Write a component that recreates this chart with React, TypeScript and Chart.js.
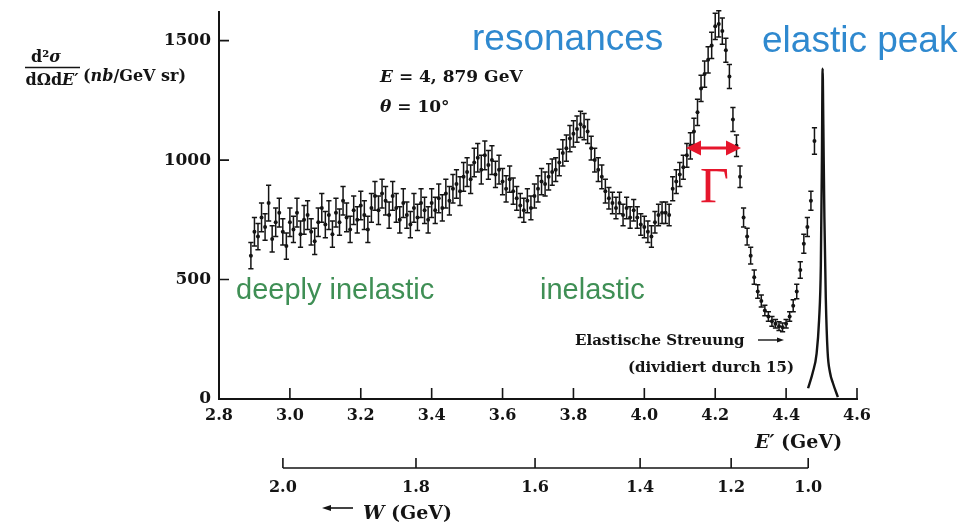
import React, { useEffect, useRef } from "react";
import { Chart, registerables } from "chart.js";

Chart.register(...registerables);

// Measured points: scattered electron energy E' (GeV)
const E_PRIME = [
  2.89, 2.90, 2.91, 2.92, 2.93, 2.94, 2.95, 2.96, 2.97, 2.98, 2.99,
  3.00, 3.01, 3.02, 3.03, 3.04, 3.05, 3.06, 3.07, 3.08, 3.09,
  3.10, 3.11, 3.12, 3.13, 3.14, 3.15, 3.16, 3.17, 3.18, 3.19,
  3.20, 3.21, 3.22, 3.23, 3.24, 3.25, 3.26, 3.27, 3.28, 3.29,
  3.30, 3.31, 3.32, 3.33, 3.34, 3.35, 3.36, 3.37, 3.38, 3.39,
  3.40, 3.41, 3.42, 3.43, 3.44, 3.45, 3.46, 3.47, 3.48, 3.49,
  3.50, 3.51, 3.52, 3.53, 3.54, 3.55, 3.56, 3.57, 3.58, 3.59,
  3.60, 3.61, 3.62, 3.63, 3.64, 3.65, 3.66, 3.67, 3.68, 3.69,
  3.70, 3.71, 3.72, 3.73, 3.74, 3.75, 3.76, 3.77, 3.78, 3.79,
  3.80, 3.81, 3.82, 3.83, 3.84, 3.85, 3.86, 3.87, 3.88, 3.89,
  3.90, 3.91, 3.92, 3.93, 3.94, 3.95, 3.96, 3.97, 3.98, 3.99,
  4.00, 4.01, 4.02, 4.03, 4.04, 4.05, 4.06, 4.07, 4.08, 4.09,
  4.10, 4.11, 4.12, 4.13, 4.14, 4.15, 4.16, 4.17, 4.18, 4.19,
  4.20, 4.21, 4.22, 4.23, 4.24, 4.25, 4.26, 4.27, 4.28, 4.29,
  4.30, 4.31, 4.32, 4.33, 4.34, 4.35, 4.36, 4.37, 4.38, 4.39,
  4.40, 4.41, 4.42, 4.43, 4.44, 4.45, 4.46, 4.47, 4.48,
];

// d²σ/dΩdE' (nb/GeV sr)
const CROSS_SECTION = [
  600, 700, 680, 760, 720, 820, 670, 740, 780, 700, 640,
  740, 710, 780, 690, 750, 770, 700, 660, 740, 800,
  730, 770, 690, 780, 740, 830, 760, 710, 790, 750,
  810, 770, 710, 800, 850, 790, 860, 830, 770, 850,
  800, 750, 820, 770, 730, 800, 760, 820, 790, 750,
  820, 790, 840, 800, 860, 830, 880, 900, 870, 930,
  950, 920, 990, 1010, 960, 1020, 980, 1000, 940, 960,
  910, 880, 920, 870, 840, 810, 790, 830, 800, 850,
  880, 910, 900, 930, 950, 960, 990, 1030, 1050, 1090,
  1110, 1130, 1150, 1140, 1120, 1050, 1000, 960, 930, 870,
  840, 820, 800, 820, 770, 800, 760, 790, 760, 730,
  720, 700, 680, 740, 770, 780, 780, 770, 880, 910,
  940, 970, 1020, 1060, 1120, 1200, 1300, 1360, 1420, 1480,
  1560, 1570, 1540, 1460, 1350, 1170, 1060, 930, 760, 680,
  600, 510, 450, 410, 370, 345, 325, 315, 305, 300,
  315, 345, 390, 450, 540, 650, 720, 830, 1080,
];

// symmetric error bars
const ERRORS = [
  55, 60, 55, 60, 55, 75, 55, 60, 60, 55, 55,
  60, 55, 60, 55, 60, 60, 55, 55, 60, 60,
  55, 60, 55, 60, 55, 60, 60, 55, 60, 55,
  60, 60, 55, 60, 60, 60, 60, 60, 55, 60,
  60, 55, 60, 55, 55, 60, 55, 60, 55, 55,
  60, 55, 60, 55, 60, 60, 60, 60, 60, 60,
  60, 60, 60, 60, 60, 60, 60, 60, 55, 60,
  55, 55, 55, 55, 50, 50, 50, 50, 50, 50,
  55, 55, 50, 55, 55, 50, 55, 55, 55, 55,
  55, 55, 55, 55, 50, 50, 50, 50, 50, 50,
  45, 45, 45, 45, 45, 45, 45, 45, 45, 45,
  45, 45, 45, 45, 45, 45, 45, 45, 50, 50,
  50, 50, 50, 55, 55, 55, 55, 55, 55, 55,
  55, 55, 55, 50, 50, 50, 45, 45, 40, 35,
  35, 30, 28, 25, 22, 20, 20, 18, 18, 18,
  18, 20, 25, 30, 35, 40, 40, 40, 55,
];

// Elastic peak (divided by 15)
const ELASTIC_E = [4.462, 4.475, 4.486, 4.493, 4.498, 4.501, 4.503, 4.505, 4.508, 4.512, 4.517, 4.524, 4.532, 4.546];
const ELASTIC_VALUES = [45, 110, 190, 330, 560, 1000, 1383, 1150, 760, 420, 200, 110, 67, 8];

const X_TICKS = [2.8, 3.0, 3.2, 3.4, 3.6, 3.8, 4.0, 4.2, 4.4, 4.6];
const Y_TICKS = [0, 500, 1000, 1500];
const W_TICKS = [2.0, 1.8, 1.6, 1.4, 1.2, 1.0];

const BEAM_ENERGY = 4.879;
const THETA_DEG = 10;
const PROTON_MASS = 0.938;

function ePrimeOfW(w: number): number {
  const s2 = Math.pow(Math.sin((THETA_DEG * Math.PI) / 360), 2);
  const M = PROTON_MASS;
  const E = BEAM_ENERGY;
  return (M * M + 2 * M * E - w * w) / (2 * M + 4 * E * s2);
}

const SERIF = "'DejaVu Serif', serif";
const SANS = "'Liberation Sans', Arial, sans-serif";
const INK = "#141414";
const BLUE = "#2f89cf";
const GREEN = "#3f8f55";
const RED = "#e6162c";

type Part = [string, string];
function rich(ctx: CanvasRenderingContext2D, x: number, y: number, parts: Part[], align: "left" | "center" | "right" = "left") {
  let total = 0;
  for (const [f, t] of parts) {
    ctx.font = f;
    total += ctx.measureText(t).width;
  }
  let cx = align === "left" ? x : align === "right" ? x - total : x - total / 2;
  ctx.textAlign = "left";
  ctx.textBaseline = "alphabetic";
  for (const [f, t] of parts) {
    ctx.font = f;
    ctx.fillText(t, cx, y);
    cx += ctx.measureText(t).width;
  }
}

function arrowHead(ctx: CanvasRenderingContext2D, x: number, y: number, dir: number, len: number, half: number) {
  ctx.beginPath();
  ctx.moveTo(x, y);
  ctx.lineTo(x - dir * len, y - half);
  ctx.lineTo(x - dir * len, y + half);
  ctx.closePath();
  ctx.fill();
}

const decorations = {
  id: "decorations",
  beforeDatasetsDraw(chart: any) {
    const ctx: CanvasRenderingContext2D = chart.ctx;
    const xs = chart.scales.x;
    const ys = chart.scales.y;
    ctx.save();
    ctx.strokeStyle = INK;
    ctx.lineWidth = 1.5;
    for (let i = 0; i < E_PRIME.length; i++) {
      const px = xs.getPixelForValue(E_PRIME[i]);
      const top = ys.getPixelForValue(CROSS_SECTION[i] + ERRORS[i]);
      const bot = ys.getPixelForValue(CROSS_SECTION[i] - ERRORS[i]);
      ctx.beginPath();
      ctx.moveTo(px, top);
      ctx.lineTo(px, bot);
      ctx.moveTo(px - 2.6, top);
      ctx.lineTo(px + 2.6, top);
      ctx.moveTo(px - 2.6, bot);
      ctx.lineTo(px + 2.6, bot);
      ctx.stroke();
    }
    ctx.restore();
  },
  afterDraw(chart: any) {
    const ctx: CanvasRenderingContext2D = chart.ctx;
    const xs = chart.scales.x;
    const ys = chart.scales.y;
    const ws = chart.scales.w;
    const area = chart.chartArea;
    ctx.save();
    ctx.strokeStyle = INK;
    ctx.fillStyle = INK;

    // inward tick marks
    ctx.lineWidth = 1.6;
    ctx.beginPath();
    for (const v of X_TICKS.slice(1)) {
      const px = xs.getPixelForValue(v);
      ctx.moveTo(px, area.bottom);
      ctx.lineTo(px, area.bottom - 11);
    }
    for (const v of Y_TICKS.slice(1)) {
      const py = ys.getPixelForValue(v);
      ctx.moveTo(area.left, py);
      ctx.lineTo(area.left + 10, py);
    }
    ctx.stroke();

    // W axis
    const wy = ws.top;
    const w0 = ws.getPixelForValue(ePrimeOfW(W_TICKS[0]));
    const w1 = ws.getPixelForValue(ePrimeOfW(W_TICKS[W_TICKS.length - 1]));
    ctx.lineWidth = 1.6;
    ctx.beginPath();
    ctx.moveTo(w0, wy);
    ctx.lineTo(w1, wy);
    for (const w of W_TICKS) {
      const px = ws.getPixelForValue(ePrimeOfW(w));
      ctx.moveTo(px, wy);
      ctx.lineTo(px, wy - 10);
    }
    ctx.stroke();

    // y-axis title
    const b15 = `bold 16px ${SERIF}`;
    const bi15 = `italic bold 16px ${SERIF}`;
    rich(ctx, 46, 62, [[b15, "d²"], [bi15, "σ"]], "center");
    ctx.lineWidth = 1.4;
    ctx.beginPath();
    ctx.moveTo(25, 67.5);
    ctx.lineTo(80, 67.5);
    ctx.stroke();
    rich(ctx, 52, 85, [[b15, "dΩd"], [bi15, "E′"]], "center");
    rich(ctx, 83, 81, [[b15, "("], [bi15, "nb"], [b15, "/GeV sr)"]]);

    // beam parameters
    const b17 = `bold 17px ${SERIF}`;
    const bi17 = `italic bold 17px ${SERIF}`;
    rich(ctx, 380, 82, [[bi17, "E"], [b17, " = 4, 879 GeV"]]);
    rich(ctx, 380, 112, [[bi17, "θ"], [b17, " = 10°"]]);

    // elastic note
    const b15b = `bold 15px ${SERIF}`;
    rich(ctx, 575, 345, [[b15b, "Elastische Streuung"]]);
    ctx.lineWidth = 1.4;
    ctx.beginPath();
    ctx.moveTo(758, 340);
    ctx.lineTo(778, 340);
    ctx.stroke();
    arrowHead(ctx, 784, 340, 1, 7, 2.5);
    rich(ctx, 628, 372, [[b15b, "(dividiert durch 15)"]]);

    // axis titles
    const b19 = `bold 19px ${SERIF}`;
    const bi19 = `italic bold 19px ${SERIF}`;
    rich(ctx, 755, 448, [[bi19, "E′"], [b19, " (GeV)"]]);
    ctx.lineWidth = 1.6;
    ctx.beginPath();
    ctx.moveTo(330, 508);
    ctx.lineTo(353, 508);
    ctx.stroke();
    arrowHead(ctx, 322, 508, -1, 9, 3);
    rich(ctx, 363, 519, [[bi19, "W"], [b19, " (GeV)"]]);

    // coloured annotations
    ctx.fillStyle = BLUE;
    rich(ctx, 472, 50, [[`37px ${SANS}`, "resonances"]]);
    rich(ctx, 762, 52, [[`37px ${SANS}`, "elastic peak"]]);
    ctx.fillStyle = GREEN;
    rich(ctx, 236, 299, [[`29px ${SANS}`, "deeply inelastic"]]);
    rich(ctx, 540, 299, [[`29px ${SANS}`, "inelastic"]]);

    ctx.fillStyle = RED;
    ctx.strokeStyle = RED;
    ctx.lineWidth = 3;
    ctx.beginPath();
    ctx.moveTo(698, 148);
    ctx.lineTo(729, 148);
    ctx.stroke();
    arrowHead(ctx, 686, 148, -1, 15, 7.5);
    arrowHead(ctx, 741, 148, 1, 15, 7.5);
    rich(ctx, 700, 202, [[`50px 'Liberation Serif', serif`, "Γ"]]);

    ctx.restore();
  },
};

function noPad(s: any) {
  s.paddingTop = 0;
  s.paddingBottom = 0;
  s.paddingLeft = 0;
  s.paddingRight = 0;
}

export default function App() {
  const ref = useRef<HTMLCanvasElement | null>(null);

  useEffect(() => {
    if (!ref.current) return;
    const tickFont = { family: SERIF, weight: "bold" as const, size: 16 };
    const chart = new Chart(ref.current, {
      type: "line",
      data: {
        datasets: [
          {
            label: "data",
            xAxisID: "x",
            yAxisID: "y",
            data: E_PRIME.map((e, i) => ({ x: e, y: CROSS_SECTION[i] })),
            showLine: false,
            pointRadius: 2,
            pointBackgroundColor: INK,
            pointBorderWidth: 0,
            borderColor: INK,
          },
          {
            label: "elastic",
            xAxisID: "x",
            yAxisID: "y",
            data: ELASTIC_E.map((e, i) => ({ x: e, y: ELASTIC_VALUES[i] })),
            showLine: true,
            borderColor: INK,
            borderWidth: 2.4,
            pointRadius: 0,
            cubicInterpolationMode: "monotone",
          },
        ],
      },
      options: {
        responsive: false,
        animation: false,
        layout: { padding: { left: 0, right: 104, top: 12, bottom: 0 } },
        plugins: { legend: { display: false }, tooltip: { enabled: false }, title: { display: false } },
        scales: {
          x: {
            type: "linear",
            position: "bottom",
            weight: 0,
            min: 2.8,
            max: 4.6,
            afterBuildTicks: (s: any) => {
              s.ticks = X_TICKS.map((v) => ({ value: v }));
            },
            afterFit: (s: any) => {
              s.height = 69;
              noPad(s);
            },
            ticks: {
              autoSkip: false,
              maxRotation: 0,
              padding: 7,
              color: INK,
              font: tickFont,
              callback: (v: any) => Number(v).toFixed(1),
            },
            grid: { display: false, drawTicks: false },
            border: { display: true, color: INK, width: 2 },
          },
          w: {
            type: "linear",
            position: "bottom",
            weight: 1,
            min: 2.8,
            max: 4.6,
            afterBuildTicks: (s: any) => {
              s.ticks = W_TICKS.map((w) => ({ value: ePrimeOfW(w) }));
            },
            afterFit: (s: any) => {
              s.height = 59;
              noPad(s);
            },
            ticks: {
              autoSkip: false,
              maxRotation: 0,
              padding: 10,
              color: INK,
              font: tickFont,
              callback: (_v: any, i: number) => W_TICKS[i].toFixed(1),
            },
            grid: { display: false, drawTicks: false },
            border: { display: false },
          },
          y: {
            type: "linear",
            min: 0,
            max: 1620,
            afterBuildTicks: (s: any) => {
              s.ticks = Y_TICKS.map((v) => ({ value: v }));
            },
            afterFit: (s: any) => {
              s.width = 219;
              noPad(s);
            },
            ticks: {
              padding: 8,
              color: INK,
              font: { family: SERIF, weight: "bold" as const, size: 17 },
              callback: (v: any) => String(v),
            },
            grid: { display: false, drawTicks: false },
            border: { display: true, color: INK, width: 2 },
          },
        },
      },
      plugins: [decorations],
    } as any);
    return () => chart.destroy();
  }, []);

  return (
    <div style={{ position: "absolute", left: 0, top: 0, width: 961, height: 527, background: "#fff" }}>
      <canvas ref={ref} width={961} height={527} style={{ display: "block" }} />
    </div>
  );
}
